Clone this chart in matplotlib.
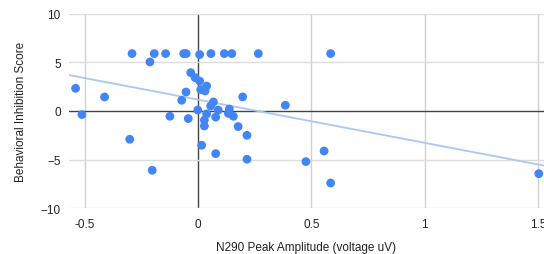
import numpy as np
import matplotlib
matplotlib.use("Agg")
from matplotlib import pyplot as plt

matplotlib.rcParams['font.family'] = ['Liberation Sans', 'DejaVu Sans']
matplotlib.rcParams['font.size'] = 8

# N290 peak amplitude (uV) vs behavioral inhibition score
amp = [-0.291, -0.212, -0.193, -0.143, -0.063, -0.052, 0.007, 0.057, 0.116, 0.149, 0.266, 0.585,
       -0.540, -0.512, -0.412,
       -0.032, -0.013, 0.007, 0.038, 0.012, 0.031, -0.053, -0.072, 0.197, 0.385,
       -0.001, 0.068, 0.056, 0.089, 0.138, 0.134, 0.156, -0.124, -0.043, 0.038, 0.078,
       0.028, 0.028, 0.177, 0.216,
       -0.301, 0.016, 0.078, 0.216, -0.202, 0.556, 0.476, 0.585, 1.503]
score = [5.9, 5.04, 5.9, 5.9, 5.9, 5.9, 5.8, 5.9, 5.9, 5.9, 5.9, 5.9,
         2.33, -0.37, 1.44,
         3.94, 3.43, 3.08, 2.57, 2.2, 2.06, 1.95, 1.1, 1.45, 0.59,
         0.1, 0.93, 0.51, 0.1, 0.2, -0.25, -0.54, -0.54, -0.78, -0.3, -0.63,
         -0.93, -1.54, -1.6, -2.5,
         -2.91, -3.52, -4.38, -4.96, -6.09, -4.11, -5.2, -7.4, -6.44]

xticks = [-0.5, 0, 0.5, 1, 1.5]
xtick_labels = ['-0.5', '0', '0.5', '1', '1.5']
yticks = [-10, -5, 0, 5, 10]

x = np.array(amp)
y = np.array(score)

fig = plt.figure(figsize=(5.44, 2.55), dpi=100)
ax = fig.add_axes([69 / 544, 45.7 / 255, 475 / 544, 194.6 / 255])

xmin, xmax = -0.569, 1.526
ax.set_xlim(xmin, xmax)
ax.set_ylim(-10, 10)

# grid
for t in xticks:
    ax.axvline(t, color='#444444' if t == 0 else '#d0d0d0', lw=1.0, zorder=1)
for t in yticks:
    ax.axhline(t, color='#444444' if t == 0 else '#dcdcdc', lw=1.0, zorder=1)

# linear trendline
m, b = np.polyfit(x, y, 1)
tx = np.array([xmin, xmax])
ax.plot(tx, m * tx + b, color='#a9c8f4', lw=1.3, zorder=2)

ax.scatter(x, y, s=40, color='#4285f4', edgecolors='none', zorder=3)

for s in ax.spines.values():
    s.set_visible(False)
ax.set_xticks(xticks)
ax.set_xticklabels(xtick_labels)
ax.set_yticks(yticks)
ax.tick_params(length=0, colors='#222222', labelsize=8.5)
ax.tick_params(axis='x', pad=7)
ax.tick_params(axis='y', pad=6)

ax.set_xlabel("N290 Peak Amplitude (voltage uV)", fontsize=8.5, color='#222222', labelpad=8)
ax.set_ylabel("Behavioral Inhibition Score", fontsize=8.5, color='#222222', labelpad=10)

fig.savefig("out.png", dpi=100)
